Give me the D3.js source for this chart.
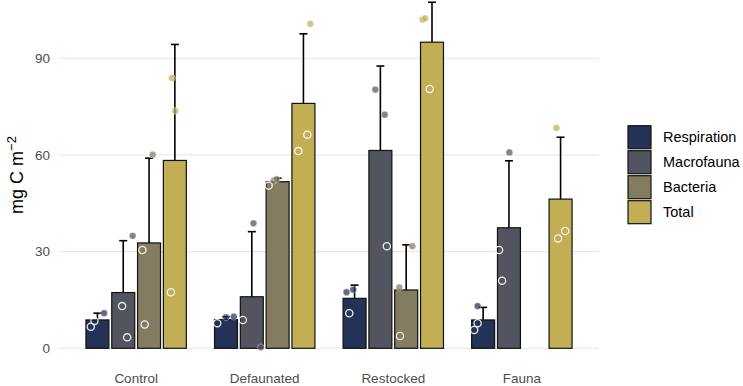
<!DOCTYPE html>
<html>
<head>
<meta charset="utf-8">
<script src="https://cdn.jsdelivr.net/npm/d3@7"></script>
<style>
  body { margin: 0; background: #fff; }
  text { font-family: "Liberation Sans", Arial, sans-serif; }
</style>
</head>
<body>
<svg id="chart" width="743" height="386"></svg>
<script>
// treatments on the x axis, components dodged inside each group
const treatments = ["Control", "Defaunated", "Restocked", "Fauna"];
const components = ["Respiration", "Macrofauna", "Bacteria", "Total"];
const colors = ["#243258", "#52555f", "#837c61", "#c1ae55"];
const yTicks = [0, 30, 60, 90];

// bar heights (mean), one row per treatment, null = no bar
const meanValues = [
  [8.8, 17.3, 32.7, 58.3],
  [8.9, 16.0, 51.7, 76.0],
  [15.5, 61.4, 18.1, 95.0],
  [8.8, 37.4, null, 46.3]
];
// top of the error bar (mean + se)
const upperValues = [
  [10.9, 33.4, 59.0, 94.3],
  [9.8, 36.2, 52.8, 97.6],
  [19.6, 87.6, 32.1, 107.4],
  [12.7, 58.2, null, 65.5]
];
// replicate observations, three per bar
const obsValues = [
  [[6.7, 8.5, 10.9], [13.1, 3.4, 34.9], [30.5, 7.4, 60.1], [83.9, 73.7, 17.4]],
  [[7.8, 9.6, 9.8], [8.8, 0.3, 38.8], [50.5, 52.0, 52.5], [100.7, 66.3, 61.2]],
  [[10.9, 17.4, 18.2], [80.3, 72.5, 31.7], [31.7, 18.9, 3.8], [102.0, 102.4, 80.5]],
  [[13.1, 7.8, 5.7], [60.8, 30.5, 21.0], [], [68.4, 34.1, 36.4]]
];
// 1 = filled point, 0 = hollow point
const obsFilled = [
  [[0, 0, 1], [0, 0, 1], [0, 0, 1], [1, 1, 0]],
  [[0, 1, 1], [0, 1, 1], [0, 1, 1], [1, 0, 0]],
  [[0, 1, 1], [1, 1, 0], [1, 1, 0], [1, 1, 0]],
  [[1, 0, 0], [1, 0, 0], [], [1, 0, 0]]
];
// horizontal jitter, fraction of bar width
const obsJitter = [
  [[-0.29, -0.13, 0.29], [-0.05, 0.17, 0.41], [-0.29, -0.19, 0.16], [-0.13, 0.02, -0.17]],
  [[-0.38, 0.0, 0.34], [-0.39, 0.39, 0.07], [-0.39, -0.17, -0.04], [0.30, 0.17, -0.22]],
  [[-0.23, -0.35, -0.06], [-0.22, 0.19, 0.28], [0.27, -0.30, -0.27], [-0.41, -0.30, -0.10]],
  [[-0.24, -0.24, -0.39], [0.02, -0.43, -0.30], [], [-0.18, -0.11, 0.20]]
];

const svg = d3.select("#chart");
const panel = { left: 59, right: 599 };

const x = d3.scalePoint()
  .domain(treatments)
  .range([panel.left, panel.right])
  .padding(0.6);

const xInner = d3.scaleBand()
  .domain(components)
  .range([-50.2, 50.2])
  .paddingInner(0.11);

const y = d3.scaleLinear()
  .domain([0, 90])
  .range([348.3, 58.3]);

const color = d3.scaleOrdinal().domain(components).range(colors);

// grid
svg.append("g")
  .selectAll("line")
  .data(yTicks)
  .join("line")
    .attr("x1", panel.left)
    .attr("x2", panel.right)
    .attr("y1", d => y(d))
    .attr("y2", d => y(d))
    .attr("stroke", "#e6e6e6")
    .attr("stroke-width", 1.1);

// y axis labels
svg.append("g")
  .selectAll("text")
  .data(yTicks)
  .join("text")
    .attr("x", 50)
    .attr("y", d => y(d))
    .attr("dy", "0.35em")
    .attr("text-anchor", "end")
    .attr("font-size", 13.5)
    .attr("fill", "#4d4d4d")
    .text(d => d);

// y title
const yTitle = svg.append("text")
  .attr("transform", "translate(23,175) rotate(-90)")
  .attr("text-anchor", "middle")
  .attr("font-size", 18)
  .attr("fill", "#000");
yTitle.append("tspan").text("mg C m");
yTitle.append("tspan").attr("dy", -7).attr("font-size", 13).text("\u22122");

// x labels
svg.append("g")
  .selectAll("text")
  .data(treatments)
  .join("text")
    .attr("x", d => x(d))
    .attr("y", 383)
    .attr("text-anchor", "middle")
    .attr("font-size", 13.5)
    .attr("fill", "#4d4d4d")
    .text(d => d);

// flatten the table into bar records
const bars = [];
treatments.forEach((t, i) => {
  components.forEach((c, j) => {
    if (meanValues[i][j] == null) return;
    bars.push({
      treatment: t, component: c,
      mean: meanValues[i][j], upper: upperValues[i][j],
      obs: obsValues[i][j].map((v, k) => ({
        value: v, filled: obsFilled[i][j][k], jitter: obsJitter[i][j][k], component: c
      }))
    });
  });
});

const cx = d => x(d.treatment) + xInner(d.component) + xInner.bandwidth() / 2;
const capHalf = 4;

// error bars (upper only)
const err = svg.append("g").attr("stroke", "#000").attr("stroke-width", 1.6);
err.selectAll(".stem")
  .data(bars)
  .join("line")
    .attr("class", "stem")
    .attr("x1", cx).attr("x2", cx)
    .attr("y1", d => y(d.mean))
    .attr("y2", d => y(d.upper));
err.selectAll(".cap")
  .data(bars)
  .join("line")
    .attr("class", "cap")
    .attr("x1", d => cx(d) - capHalf)
    .attr("x2", d => cx(d) + capHalf)
    .attr("y1", d => y(d.upper))
    .attr("y2", d => y(d.upper));

// bars
svg.append("g")
  .selectAll("rect")
  .data(bars)
  .join("rect")
    .attr("x", d => x(d.treatment) + xInner(d.component))
    .attr("width", xInner.bandwidth())
    .attr("y", d => y(d.mean))
    .attr("height", d => y(0) - y(d.mean))
    .attr("fill", d => color(d.component))
    .attr("stroke", "#111")
    .attr("stroke-width", 1.2);

// observation points
svg.append("g")
  .selectAll("g")
  .data(bars)
  .join("g")
  .each(function(b) {
    d3.select(this).selectAll("circle")
      .data(b.obs)
      .join("circle")
        .attr("cx", d => cx(b) + d.jitter * xInner.bandwidth())
        .attr("cy", d => y(d.value))
        .attr("r", d => d.filled ? 3.4 : 3.6)
        .attr("fill", d => d.filled ? color(d.component) : "none")
        .attr("fill-opacity", 0.72)
        .attr("stroke", "#fff")
        .attr("stroke-opacity", d => d.filled ? 0.6 : 0.9)
        .attr("stroke-width", d => d.filled ? 0.6 : 1.3);
  });

// legend
const legend = svg.append("g").attr("transform", "translate(628,125.7)");
const item = legend.selectAll("g")
  .data(components)
  .join("g")
    .attr("transform", (d, i) => `translate(0,${i * 25})`);
item.append("rect")
  .attr("width", 23)
  .attr("height", 23)
  .attr("fill", d => color(d))
  .attr("stroke", "#111")
  .attr("stroke-width", 1.2);
item.append("text")
  .attr("x", 35)
  .attr("y", 11.5)
  .attr("dy", "0.35em")
  .attr("font-size", 14.5)
  .attr("fill", "#000")
  .text(d => d);
</script>
</body>
</html>
